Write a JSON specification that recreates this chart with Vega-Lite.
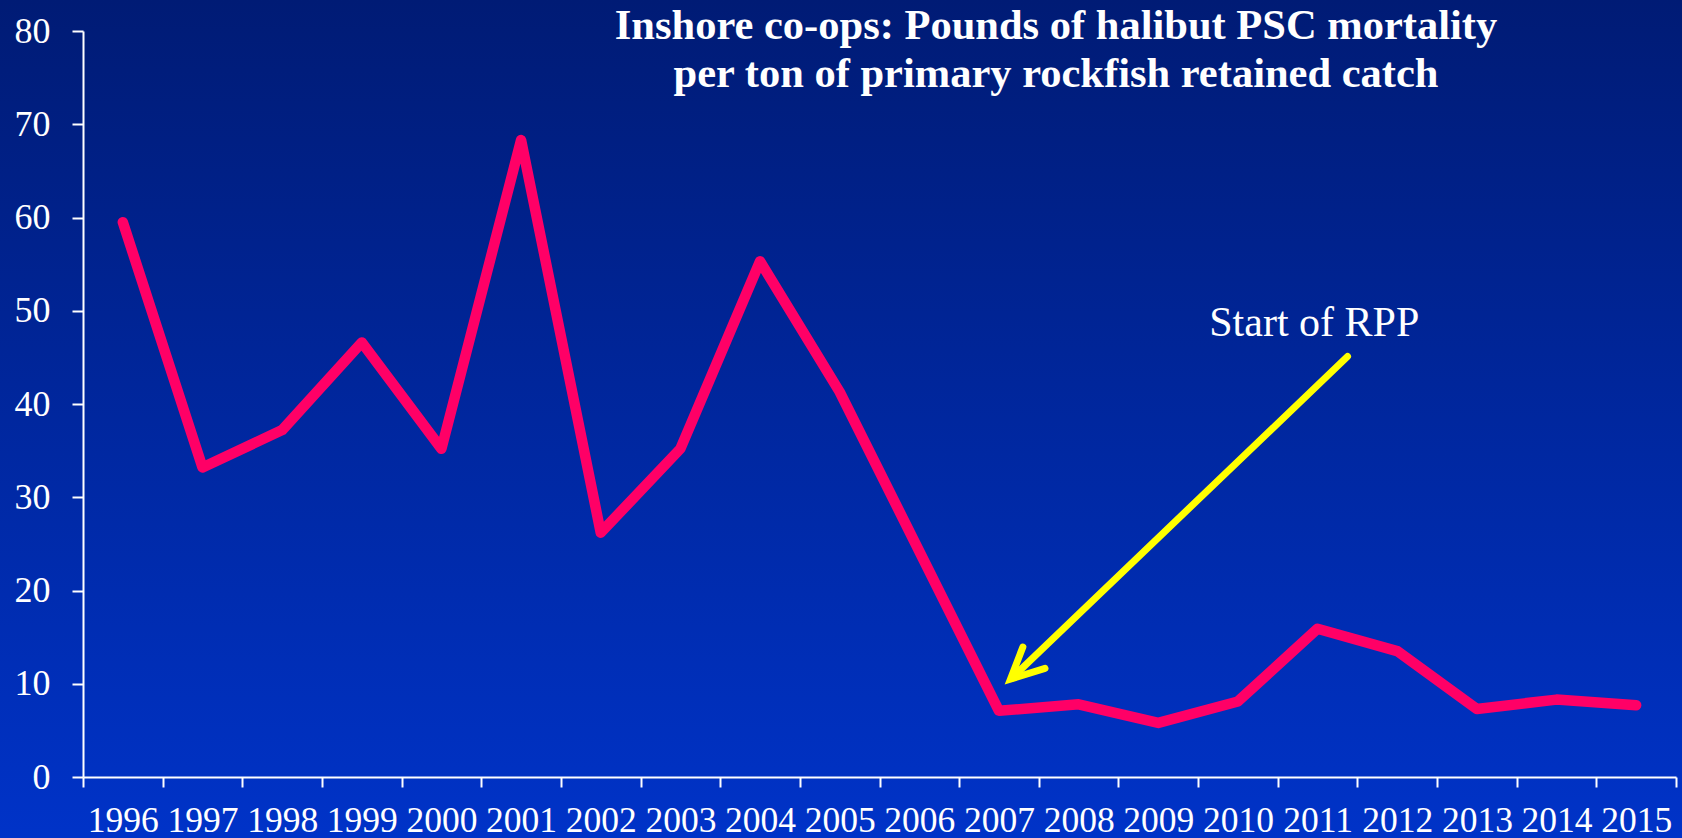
{
  "$schema": "https://vega.github.io/schema/vega-lite/v6.json",
  "width": 1682,
  "height": 838,
  "autosize": {"type": "none"},
  "padding": 0,
  "background": "#0028a0",
  "view": {
    "stroke": null,
    "fill": {
      "gradient": "linear",
      "x1": 0, "y1": 0, "x2": 0, "y2": 1,
      "stops": [
        {"offset": 0, "color": "#001b75"},
        {"offset": 1, "color": "#0033c8"}
      ]
    }
  },
  "title": {
    "text": ["Inshore co-ops: Pounds of halibut PSC mortality", "per ton of primary rockfish retained catch"],
    "orient": "top",
    "anchor": "middle",
    "frame": "group",
    "offset": -88.5,
    "dx": 215,
    "dy": 41,
    "baseline": "alphabetic",
    "lineHeight": 48,
    "font": "Liberation Serif",
    "fontSize": 42.5,
    "fontWeight": "bold",
    "color": "#ffffff"
  },
  "config": {"font": "Liberation Serif"},
  "resolve": {"scale": {"x": "independent"}},
  "layer": [
    {
      "data": {
        "values": [
          {"year": "1996", "v": 59.5},
          {"year": "1997", "v": 33.2},
          {"year": "1998", "v": 37.2},
          {"year": "1999", "v": 46.6},
          {"year": "2000", "v": 35.2},
          {"year": "2001", "v": 68.3},
          {"year": "2002", "v": 26.2},
          {"year": "2003", "v": 35.2},
          {"year": "2004", "v": 55.3},
          {"year": "2005", "v": 41.3},
          {"year": "2006", "v": 24.2},
          {"year": "2007", "v": 7.1},
          {"year": "2008", "v": 7.8},
          {"year": "2009", "v": 5.8},
          {"year": "2010", "v": 8.1},
          {"year": "2011", "v": 15.9},
          {"year": "2012", "v": 13.5},
          {"year": "2013", "v": 7.3},
          {"year": "2014", "v": 8.3},
          {"year": "2015", "v": 7.7}
        ]
      },
      "mark": {"type": "line", "color": "#ff0066", "strokeWidth": 10.5, "strokeCap": "round", "strokeJoin": "round"},
      "encoding": {
        "x": {
          "field": "year", "type": "ordinal",
          "scale": {"range": [83, 1676], "paddingInner": 0, "paddingOuter": 0},
          "axis": {
            "title": null, "labelAngle": 0,
            "domainColor": "#ffffff", "domainWidth": 2,
            "tickColor": "#ffffff", "tickWidth": 2, "tickSize": 10, "tickBand": "extent",
            "labelColor": "#ffffff", "labelFont": "Liberation Serif", "labelFontSize": 35.5,
            "labelPadding": 44, "labelBaseline": "alphabetic",
            "labelOverlap": false, "labelBound": false, "labelFlush": false,
            "grid": false, "offset": -61
          }
        },
        "y": {
          "field": "v", "type": "quantitative",
          "scale": {"domain": [0, 80], "range": [777, 31], "nice": false, "zero": true},
          "axis": {
            "title": null, "values": [0, 10, 20, 30, 40, 50, 60, 70, 80],
            "domainColor": "#ffffff", "domainWidth": 2,
            "tickColor": "#ffffff", "tickWidth": 2, "tickSize": 11,
            "labelColor": "#ffffff", "labelFont": "Liberation Serif", "labelFontSize": 36,
            "labelPadding": 22, "labelBound": false, "labelFlush": false, "labelOverlap": false,
            "grid": false, "offset": -83
          }
        }
      }
    },
    {
      "data": {
        "values": [
          {"part": "shaft", "seq": 1, "ax": 2011.376, "v": 45.09},
          {"part": "shaft", "seq": 2, "ax": 2007.16, "v": 10.6},
          {"part": "head", "seq": 1, "ax": 2007.30, "v": 13.94},
          {"part": "head", "seq": 2, "ax": 2007.145, "v": 10.5},
          {"part": "head", "seq": 3, "ax": 2007.578, "v": 11.64}
        ]
      },
      "mark": {"type": "line", "color": "#ffff00", "strokeWidth": 7, "strokeCap": "round", "strokeJoin": "miter"},
      "encoding": {
        "x": {"field": "ax", "type": "quantitative", "scale": {"domain": [1995.5, 2015.5], "range": [83, 1676], "nice": false, "zero": false}, "axis": null},
        "y": {"field": "v", "type": "quantitative"},
        "detail": {"field": "part"},
        "order": {"field": "seq"}
      }
    },
    {
      "data": {"values": [{"label": "Start of RPP", "ax": 2009.64, "v": 47.3}]},
      "mark": {"type": "text", "align": "left", "baseline": "alphabetic", "font": "Liberation Serif", "fontSize": 42, "color": "#ffffff"},
      "encoding": {
        "x": {"field": "ax", "type": "quantitative", "scale": {"domain": [1995.5, 2015.5], "range": [83, 1676], "nice": false, "zero": false}, "axis": null},
        "y": {"field": "v", "type": "quantitative"},
        "text": {"field": "label"}
      }
    }
  ]
}
